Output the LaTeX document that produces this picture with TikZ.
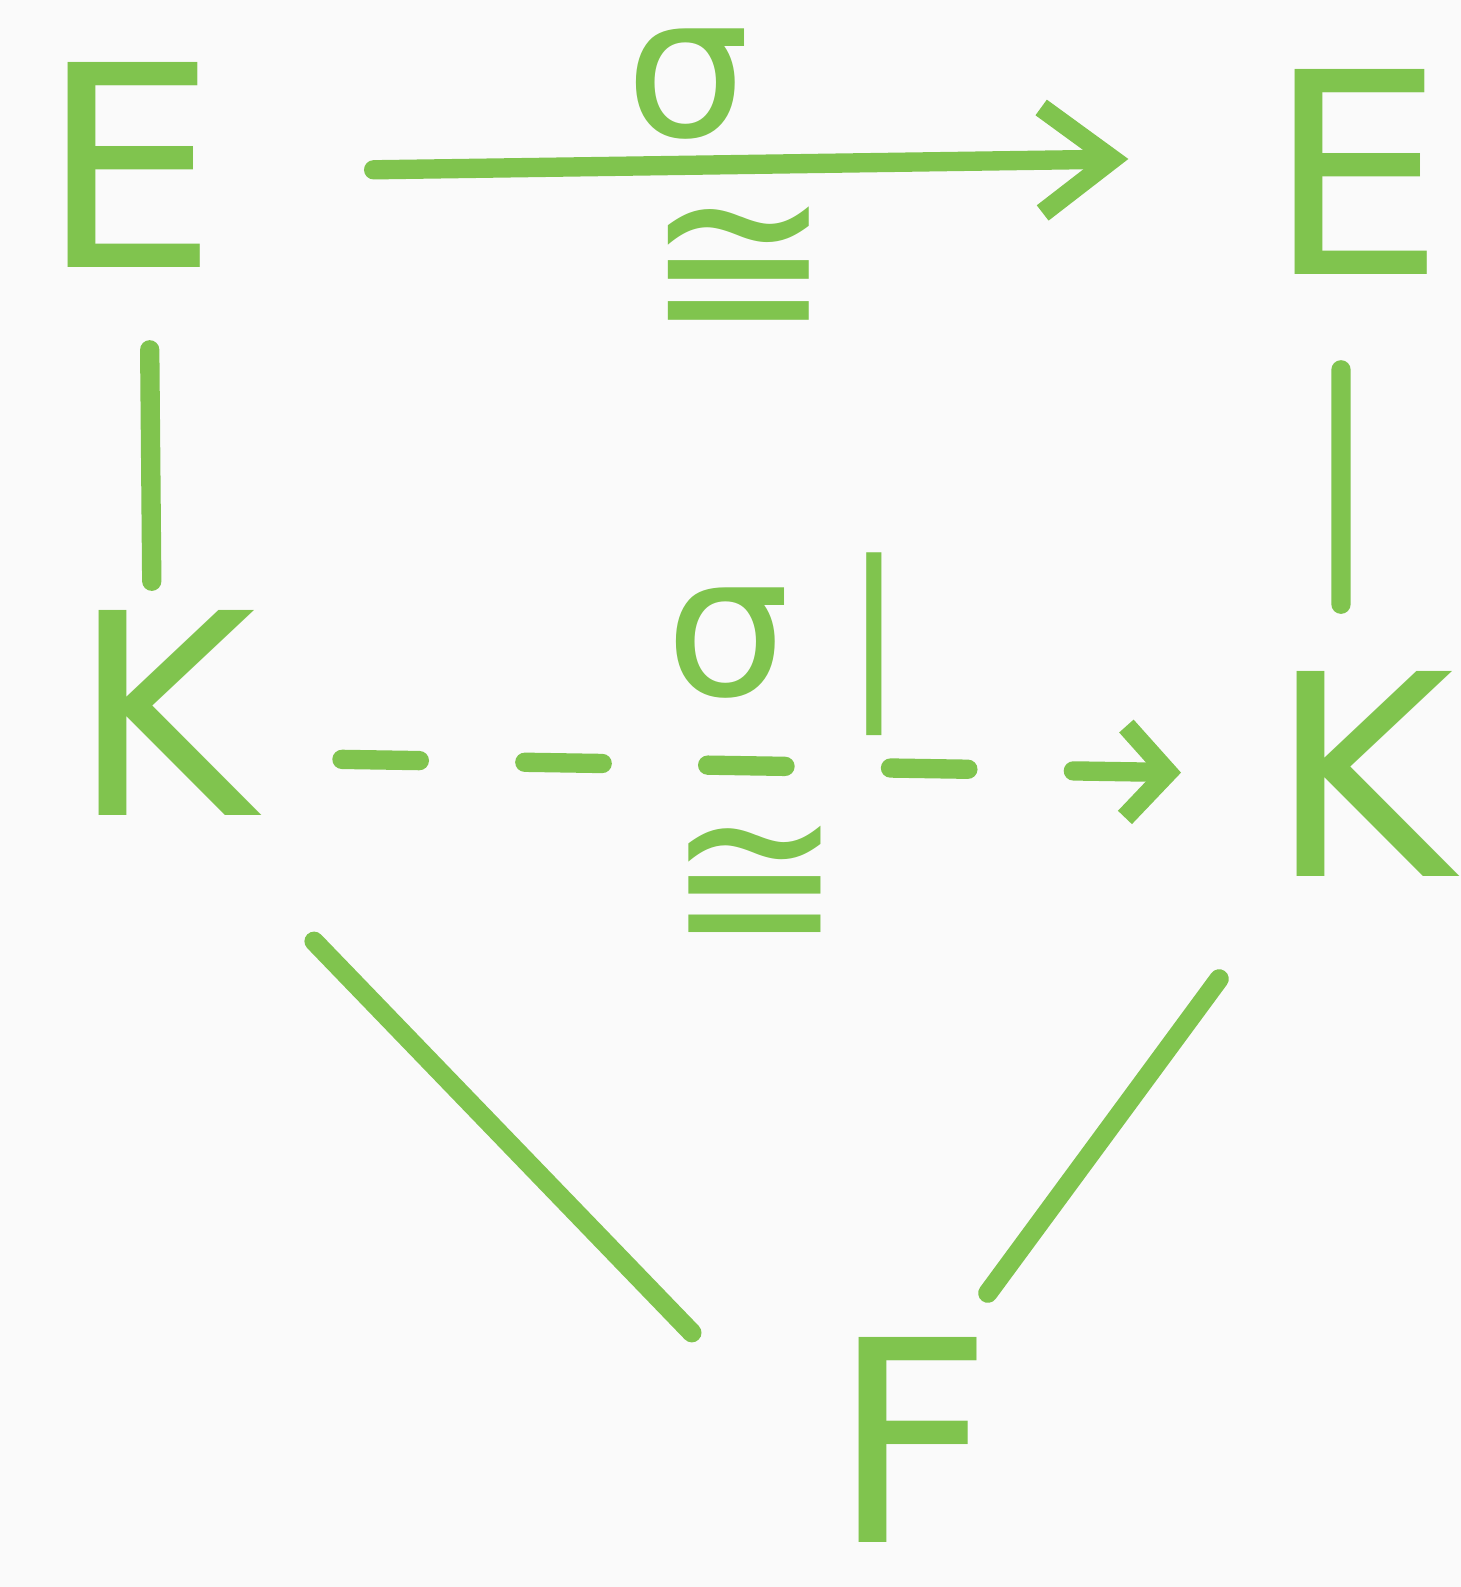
\documentclass[tikz,border=0pt]{standalone}
\usepackage{fontspec}
\usetikzlibrary{arrows.meta}
\newfontfamily\penfont{DejaVu Sans}
\definecolor{pen}{RGB}{128,196,78}
\definecolor{paper}{RGB}{250,250,250}
\begin{document}
\begin{tikzpicture}[x=0.01cm,y=-0.01cm,
  letter/.style={text=pen, font=\fontsize{80}{86}\selectfont\penfont, inner sep=0pt,
    minimum width=1.6cm, minimum height=2.1cm},
  lbl/.style={text=pen, font=\fontsize{#1}{#1}\selectfont\penfont, inner sep=0pt},
  penline/.style={draw=pen, line width=5.5pt, line cap=round},
  arr/.style={penline, -{Straight Barb[length=20pt,width=30pt,line width=5.5pt]}},
  dashedarr/.style={penline, -{Straight Barb[length=12pt,width=26pt,line width=5.5pt]},
    dash pattern=on 22pt off 30pt}]
\fill[paper] (0,0) rectangle (1461,1587);
\useasboundingbox (0,0) rectangle (1461,1587);
\node[letter] (E1) at (129,165) {E};
\node[letter] (E2) at (1356,172) {E};
\node[letter] (K1) at (164,713) {K};
\node[letter] (K2) at (1362,774) {K};
\node[letter] (F)  at (912,1440) {F};
% labels
\node[lbl=56] (s1) at (688,84) {σ};
\node[lbl=64] (c1) at (739,274) {≅};
\node[lbl=56] (s2) at (728,643) {σ};
\node[lbl=52] (bar) at (874,644) {|};
\node[lbl=60] (c2) at (755,889) {≅};
% connectors
\draw[arr, shorten <=1.55cm, shorten >=1.38cm] ([yshift=-0.07cm]E1.east) -- ([yshift=0.15cm]E2.west);
\draw[penline, shorten <=0.79cm, shorten >=0.26cm] ([xshift=0.2cm]E1.south) -- ([xshift=-0.12cm]K1.north);
\draw[penline, shorten <=0.92cm, shorten >=0.64cm] ([xshift=-0.15cm]E2.south) -- ([xshift=-0.21cm]K2.north);
\draw[dashedarr, shorten <=0.85cm, shorten >=0.88cm] ([yshift=-0.45cm]K1.east) -- (K2.west);
\draw[penline, shorten <=2.16cm, shorten >=1.49cm] ([yshift=0.33cm]K1.south) -- ([xshift=-0.35cm]F.west);
\draw[penline, shorten <=1.23cm, shorten >=0.51cm] ([xshift=0.23cm]K2.south west) -- ([xshift=-0.36cm]F.north east);
\end{tikzpicture}
\end{document}
